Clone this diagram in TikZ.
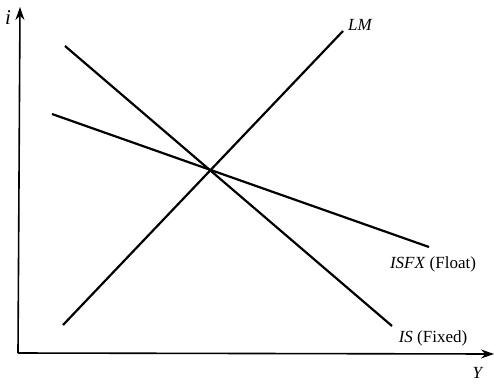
\documentclass[tikz,border=0pt]{standalone}
\usepackage{fontspec}
\setmainfont{Liberation Serif}
\usetikzlibrary{arrows.meta}
\begin{document}
\begin{tikzpicture}[x=1pt,y=-1pt,
  curve/.style={line width=2.2pt},
  axis/.style={line width=1.6pt,-{Stealth[length=13pt,width=9pt]}},
  lbl/.style={font=\fontsize{17}{20}\selectfont,inner sep=0pt}]
\useasboundingbox (0,0) rectangle (494,383);
\coordinate (O) at (18,353);
\coordinate (ytop) at (20,7);
\coordinate (xend) at (494,354);
\draw[axis] (O) -- (ytop);
\draw[axis] (O) -- (xend);
\node[lbl,font=\fontsize{21}{24}\selectfont,anchor=center] (il) at (8,18) {\textit{i}};
\node[lbl,anchor=center] (Yl) at (478,373) {\textit{Y}};
% LM
\coordinate (lm1) at (63,325);
\coordinate (lm2) at (343,31);
\draw[curve] (lm1) -- (lm2);
\node[lbl,anchor=west] (lml) at (348,25) {\textit{LM}};
% IS fixed
\coordinate (is1) at (65,46);
\coordinate (is2) at (392,326);
\draw[curve] (is1) -- (is2);
\node[lbl,anchor=center] (isl) at (433,338) {\textit{IS} (Fixed)};
% ISFX float
\coordinate (fx1) at (52,114);
\coordinate (fx2) at (429,247);
\draw[curve] (fx1) -- (fx2);
\node[lbl,anchor=center] (fxl) at (433,264) {\textit{ISFX} (Float)};
\end{tikzpicture}
\end{document}
